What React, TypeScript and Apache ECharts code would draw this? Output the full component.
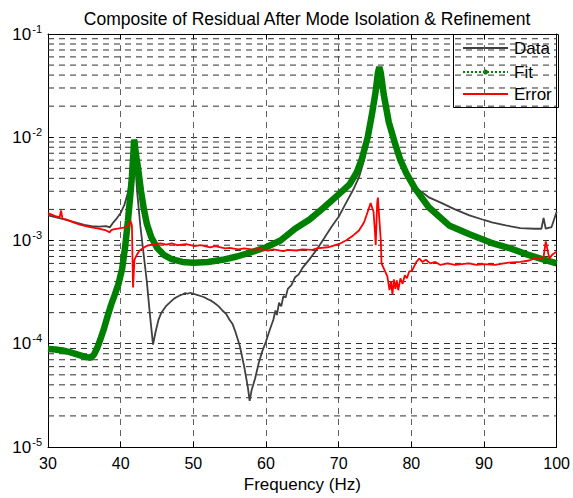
import React, { useEffect, useRef } from "react";
import * as echarts from "echarts";

const titleText = "Composite of Residual After Mode Isolation & Refinement";

const dataFreq = [30, 31, 32, 33, 34, 35, 36, 37, 38, 38.5, 39, 39.5, 40, 40.5, 41, 41.3, 41.6, 41.85, 42.0, 42.3, 42.7, 43.1, 43.6, 44.0, 44.45, 44.8, 45.2, 45.6, 46.2, 46.6, 47, 47.4, 47.8, 48.2, 48.5, 48.9, 49.2, 49.6, 50, 50.5, 51, 51.5, 52, 52.5, 53, 53.5, 54, 54.5, 55, 55.4, 55.8, 56.4, 57, 57.5, 57.75, 58, 58.5, 59, 59.5, 60, 60.5, 61, 61.3, 61.5, 61.8, 62.1, 62.4, 62.7, 63, 63.5, 64, 64.5, 65, 66, 67, 68, 69, 70, 71, 72, 72.8, 73.5, 74.3, 75, 75.5, 75.8, 76.3, 77, 78, 79, 79.9, 81, 82.5, 84.2, 86, 88, 90, 91.1, 93, 95, 97, 97.9, 98.2, 98.5, 99.3, 100];
const dataMag = [1.75e-3, 1.68e-3, 1.62e-3, 1.55e-3, 1.48e-3, 1.42e-3, 1.38e-3, 1.36e-3, 1.38e-3, 1.34e-3, 1.5e-3, 1.65e-3, 1.85e-3, 2.2e-3, 2.9e-3, 3.8e-3, 6e-3, 8.5e-3, 5.5e-3, 2.8e-3, 1.4e-3, 8e-4, 4e-4, 2e-4, 9.8e-5, 1.3e-4, 1.7e-4, 2.0e-4, 2.3e-4, 2.45e-4, 2.6e-4, 2.75e-4, 2.85e-4, 2.95e-4, 3.0e-4, 3.1e-4, 3.05e-4, 3.12e-4, 3.05e-4, 2.98e-4, 2.9e-4, 2.82e-4, 2.7e-4, 2.6e-4, 2.45e-4, 2.3e-4, 2.1e-4, 1.95e-4, 1.7e-4, 1.55e-4, 1.3e-4, 9.5e-5, 6e-5, 3.8e-5, 2.8e-5, 3.5e-5, 4.6e-5, 6.5e-5, 8.5e-5, 1.05e-4, 1.35e-4, 1.7e-4, 2.1e-4, 1.9e-4, 2.5e-4, 2.3e-4, 2.9e-4, 2.8e-4, 3.4e-4, 3.7e-4, 4.4e-4, 4.7e-4, 5.4e-4, 6.6e-4, 8.2e-4, 1.05e-3, 1.35e-3, 1.7e-3, 2.3e-3, 3.1e-3, 4.1e-3, 6e-3, 1.1e-2, 2.2e-2, 4.2e-2, 3.8e-2, 2.2e-2, 1.2e-2, 7e-3, 4.6e-3, 3.7e-3, 3.1e-3, 2.6e-3, 2.3e-3, 2.0e-3, 1.75e-3, 1.58e-3, 1.5e-3, 1.4e-3, 1.32e-3, 1.3e-3, 1.3e-3, 1.65e-3, 1.3e-3, 1.35e-3, 1.9e-3];

const fitFreq = [30, 31, 32, 33, 34, 35, 35.8, 36.3, 36.8, 37.2, 37.7, 38.2, 38.7, 39.2, 39.7, 40.2, 40.6, 41.0, 41.3, 41.55, 41.75, 41.85, 41.95, 42.1, 42.4, 42.8, 43.2, 43.6, 44.2, 45, 46, 47, 48.5, 50, 52, 54, 56, 58, 60, 62, 64, 66, 68, 70, 71.5, 72.5, 73.2, 74, 74.6, 75.1, 75.4, 75.6, 75.8, 76.2, 76.9, 77.8, 78.5, 79.3, 80.5, 82.4, 85.2, 88, 91, 93.4, 96, 98, 100];
const fitMag = [8.9e-5, 8.8e-5, 8.6e-5, 8.3e-5, 7.9e-5, 7.5e-5, 7.3e-5, 7.8e-5, 9.2e-5, 1.1e-4, 1.4e-4, 1.85e-4, 2.4e-4, 3.0e-4, 3.8e-4, 5.3e-4, 8.5e-4, 1.55e-3, 2.6e-3, 4.2e-3, 7e-3, 9.5e-3, 8.5e-3, 6.8e-3, 5.0e-3, 3.0e-3, 2.0e-3, 1.45e-3, 1.08e-3, 8.5e-4, 7.2e-4, 6.6e-4, 6.2e-4, 6.1e-4, 6.2e-4, 6.5e-4, 7.0e-4, 7.7e-4, 8.6e-4, 1.0e-3, 1.3e-3, 1.6e-3, 2.1e-3, 2.8e-3, 3.5e-3, 4.6e-3, 6.2e-3, 1.0e-2, 1.7e-2, 2.8e-2, 4.2e-2, 4.8e-2, 4.2e-2, 2.6e-2, 1.4e-2, 8.5e-3, 6e-3, 4.5e-3, 3.2e-3, 2.1e-3, 1.4e-3, 1.15e-3, 9.5e-4, 8.5e-4, 7.3e-4, 6.6e-4, 6.0e-4];

const errFreq = [30, 30.5, 31, 31.6, 31.8, 32.0, 32.5, 33.5, 34.5, 35.8, 37, 38, 38.5, 38.7, 39, 40, 40.8, 41.2, 41.35, 41.55, 41.7, 41.9, 42.2, 42.6, 43.5, 44.5, 45.5, 46.3, 47, 47.8, 49, 50.2, 51, 52.3, 53, 54.4, 55, 56.2, 57, 58.5, 59, 60.3, 61, 62.4, 63, 64.2, 65, 66.4, 67, 68.5, 70, 71, 72, 72.8, 73.5, 74.0, 74.4, 74.8, 75.0, 75.1, 75.3, 75.4, 75.6, 75.8, 75.9, 76.3, 76.7, 77.0, 77.2, 77.4, 77.6, 77.8, 78.0, 78.2, 78.5, 78.8, 79.1, 79.4, 79.7, 80.1, 80.7, 81.1, 81.5, 82, 82.6, 83.3, 84, 85, 86, 87.9, 89, 90, 91.5, 93.4, 95, 96.2, 97, 97.8, 98.2, 98.5, 99.0, 99.4, 100];
const errMag = [1.84e-3, 1.78e-3, 1.72e-3, 1.68e-3, 1.95e-3, 1.62e-3, 1.6e-3, 1.5e-3, 1.42e-3, 1.35e-3, 1.3e-3, 1.25e-3, 1.2e-3, 1.26e-3, 1.28e-3, 1.32e-3, 1.35e-3, 1.45e-3, 1.55e-3, 1.4e-3, 3.5e-4, 6.5e-4, 7.2e-4, 8e-4, 8.8e-4, 9.2e-4, 9.4e-4, 9.1e-4, 9.4e-4, 9.0e-4, 9.2e-4, 8.8e-4, 9.0e-4, 8.6e-4, 8.8e-4, 8.4e-4, 8.5e-4, 8.2e-4, 8.4e-4, 8.1e-4, 8.3e-4, 8.0e-4, 8.2e-4, 7.9e-4, 8.1e-4, 8.0e-4, 8.2e-4, 8.1e-4, 8.4e-4, 8.6e-4, 9.2e-4, 1.0e-3, 1.12e-3, 1.25e-3, 1.5e-3, 1.9e-3, 2.3e-3, 1.9e-3, 1.2e-3, 9e-4, 2.3e-3, 2.6e-3, 1.6e-3, 1.0e-3, 6e-4, 5.2e-4, 4.5e-4, 3.3e-4, 4.0e-4, 3.0e-4, 4.2e-4, 3.4e-4, 4.1e-4, 3.3e-4, 4.3e-4, 3.8e-4, 4.6e-4, 4.3e-4, 5.0e-4, 5.1e-4, 6.2e-4, 6.7e-4, 6.2e-4, 6.5e-4, 6.0e-4, 6.2e-4, 5.8e-4, 6.0e-4, 5.8e-4, 6.0e-4, 5.8e-4, 5.9e-4, 5.8e-4, 6.1e-4, 6.2e-4, 6.4e-4, 6.7e-4, 6.6e-4, 6.9e-4, 9.8e-4, 6.7e-4, 7.3e-4, 7.8e-4, 1.25e-3];

const minorDecades = [-5, -4, -3, -2];
const minorMantissas = [2, 3, 4, 5, 6, 7, 8, 9];
const minorGridValues = minorDecades.flatMap((e) =>
  minorMantissas.map((m) => Number((m * Math.pow(10, e)).toPrecision(3)))
);

const legendNames = ["Data", "Fit", "Error"];
const seriesColors = ["#404040", "#008000", "#ff0000"];

const FONT = "Liberation Sans, Arial, Helvetica, sans-serif";

function zip(xs: number[], ys: number[]) {
  return xs.map((x, i) => [x, ys[i]]);
}

export default function App() {
  const ref = useRef<HTMLDivElement>(null);
  useEffect(() => {
    if (!ref.current) return;
    const chart = echarts.init(ref.current, undefined, { renderer: "svg" });
    const hGrid = { color: "#303030", width: 1, type: [6, 5] as any };
    const vGrid = { color: "#606060", width: 1, type: [6, 5] as any };
    const logLabel = (v: number) => `10{sup|${Math.round(Math.log10(v))}}`;
    const minorSeries = minorGridValues.map((v) => ({
      type: "line",
      silent: true,
      data: [
        [30, v],
        [100, v],
      ],
      showSymbol: false,
      lineStyle: hGrid,
      z: 1,
    }));
    const option: any = {
      animation: false,
      backgroundColor: "#ffffff",
      textStyle: { fontFamily: FONT },
      title: {
        text: titleText,
        left: 302,
        textAlign: "center",
        top: 5,
        textStyle: { fontSize: 17.5, fontWeight: "normal", color: "#000", fontFamily: FONT },
      },
      grid: { left: 48, right: 15, top: 34, bottom: 51, containLabel: false },
      xAxis: [
        {
          type: "value",
          min: 30,
          max: 100,
          interval: 10,
          name: "Frequency (Hz)",
          nameLocation: "middle",
          nameGap: 29,
          nameTextStyle: { fontSize: 17, color: "#000", fontFamily: FONT },
          axisLine: { show: true, lineStyle: { color: "#000", width: 1 } },
          axisTick: { show: true, inside: true, length: 5, lineStyle: { color: "#000" } },
          axisLabel: { fontSize: 16, color: "#000", margin: 8, fontFamily: FONT },
          splitLine: { show: true, lineStyle: vGrid },
        },
        {
          type: "value",
          position: "top",
          min: 30,
          max: 100,
          interval: 10,
          axisLine: { show: true, lineStyle: { color: "#000", width: 1 } },
          axisTick: { show: true, inside: true, length: 5, lineStyle: { color: "#000" } },
          axisLabel: { show: false },
          splitLine: { show: false },
        },
      ],
      yAxis: [
        {
          type: "log",
          logBase: 10,
          min: 1e-5,
          max: 1e-1,
          axisLine: { show: true, lineStyle: { color: "#000", width: 1 } },
          axisTick: { show: true, inside: true, length: 5, lineStyle: { color: "#000" } },
          axisLabel: {
            formatter: logLabel,
            margin: 6,
            color: "#000",
            fontSize: 17,
            fontFamily: FONT,
            rich: {
              sup: { fontSize: 11, color: "#000", fontFamily: FONT, padding: [0, 0, 11, 1] },
            },
          },
          splitLine: { show: true, lineStyle: hGrid },
        },
        {
          type: "log",
          logBase: 10,
          min: 1e-5,
          max: 1e-1,
          position: "right",
          axisLine: { show: true, lineStyle: { color: "#000", width: 1 } },
          axisTick: { show: true, inside: true, length: 5, lineStyle: { color: "#000" } },
          axisLabel: { show: false },
          splitLine: { show: false },
        },
      ],
      series: [
        ...minorSeries,
        {
          name: "Data",
          type: "line",
          data: zip(dataFreq, dataMag),
          showSymbol: false,
          lineStyle: { color: seriesColors[0], width: 1.8 },
          z: 2,
        },
        {
          name: "Fit",
          type: "line",
          data: zip(fitFreq, fitMag),
          showSymbol: false,
          lineStyle: { color: seriesColors[1], width: 6.5 },
          z: 3,
        },
        {
          name: "Error",
          type: "line",
          data: zip(errFreq, errMag),
          showSymbol: false,
          lineStyle: { color: seriesColors[2], width: 1.8 },
          z: 4,
        },
      ],
      graphic: [
        {
          type: "group",
          z: 100,
          children: [
            {
              type: "rect",
              shape: { x: 453.5, y: 34.5, width: 105, height: 73 },
              style: { fill: "#fff", stroke: "#000", lineWidth: 1 },
            },
            {
              type: "line",
              shape: { x1: 463, y1: 48, x2: 508, y2: 48 },
              style: { stroke: seriesColors[0], lineWidth: 2 },
            },
            {
              type: "line",
              shape: { x1: 463, y1: 72, x2: 508, y2: 72 },
              style: { stroke: seriesColors[1], lineWidth: 1.8, lineDash: [2, 2] },
            },
            {
              type: "circle",
              shape: { cx: 485.5, cy: 72, r: 2.5 },
              style: { fill: seriesColors[1] },
            },
            {
              type: "line",
              shape: { x1: 463, y1: 94, x2: 508, y2: 94 },
              style: { stroke: seriesColors[2], lineWidth: 2 },
            },
            ...legendNames.map((n, i) => ({
              type: "text",
              x: 514,
              y: [48, 72, 94][i],
              style: {
                text: n,
                fontSize: 17,
                fontFamily: FONT,
                fill: "#000",
                verticalAlign: "middle",
                align: "left",
              },
            })),
          ],
        },
      ],
    };
    chart.setOption(option);
    return () => chart.dispose();
  }, []);
  return (
    <div
      ref={ref}
      style={{ position: "absolute", left: 0, top: 0, width: 573, height: 498 }}
    />
  );
}
